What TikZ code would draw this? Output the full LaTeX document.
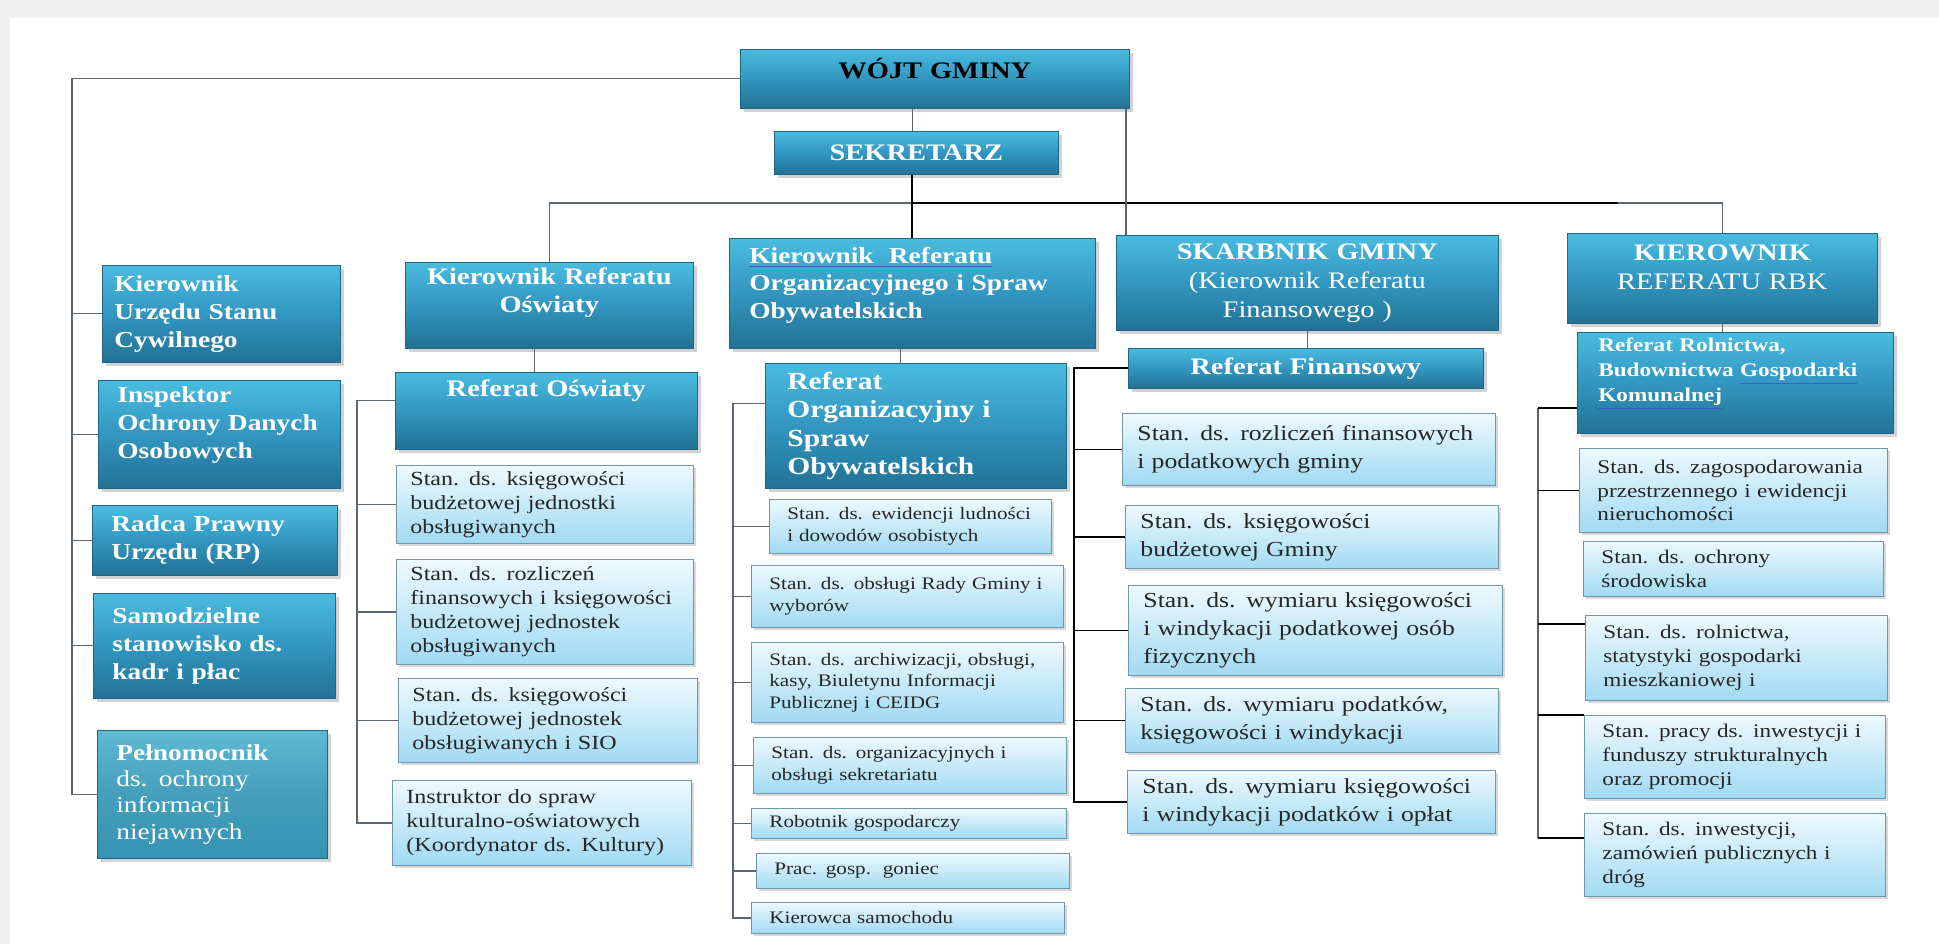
\documentclass[tikz,border=0pt]{standalone}
\usepackage{fontspec}
\setmainfont{Liberation Serif}[FakeStretch=1.2]
\usetikzlibrary{positioning,shadows,calc}

\definecolor{boxtop}{RGB}{74,188,224}
\definecolor{boxmid}{RGB}{50,150,192}
\definecolor{boxbot}{RGB}{34,114,148}
\definecolor{boxedge}{RGB}{30,104,134}
\definecolor{litetop}{RGB}{238,249,254}
\definecolor{litebot}{RGB}{160,218,243}
\definecolor{liteedge}{RGB}{112,150,170}
\definecolor{linegray}{RGB}{92,102,112}
\definecolor{pagegray}{RGB}{240,240,240}
\definecolor{peltop}{RGB}{96,186,212}
\definecolor{pelbot}{RGB}{56,146,178}
\definecolor{spellblue}{RGB}{60,90,200}

\tikzset{
  darknode/.style args={#1,#2}{
  rectangle, anchor=north west,
  top color=boxtop, bottom color=boxbot, middle color=boxmid,
  draw=boxedge, line width=0.4pt,
  drop shadow={shadow xshift=2pt,shadow yshift=-2pt,opacity=0.35},
  text=white,
  minimum width=#1 cm,
  minimum height=#2 cm,
  inner xsep=0.3cm, inner ysep=2pt,
  text width=#1 cm-2*\pgfkeysvalueof{/pgf/inner xsep},
  },
  litenode/.style args={#1,#2}{
  rectangle, anchor=north west,
  top color=litetop, bottom color=litebot,
  draw=liteedge, line width=0.5pt,
  drop shadow={shadow xshift=1.5pt,shadow yshift=-1.5pt,opacity=0.3},
  text=black!85, align=left,
  minimum width=#1 cm,
  minimum height=#2 cm,
  inner xsep=0.34cm, inner ysep=1pt,
  text width=#1 cm-2*\pgfkeysvalueof{/pgf/inner xsep},
  },
  lift/.style={execute at end node={\par\kern#1}},
  bigtext/.style={font=\bfseries\fontsize{13.5}{16}\selectfont},
  lefttext/.style={font=\bfseries\fontsize{13}{16}\selectfont,align=left,inner xsep=0.38cm},
  col2text/.style={font=\fontsize{11.4}{13.6}\selectfont,inner xsep=0.28cm},
  col3text/.style={font=\fontsize{10}{12.3}\selectfont,inner xsep=0.36cm},
  col4text/.style={font=\fontsize{12.2}{16}\selectfont,inner xsep=0.3cm},
  col5text/.style={font=\fontsize{11}{13.6}\selectfont,inner xsep=0.36cm},
  conn/.style={draw=linegray,line width=0.7pt},
  darkconn/.style={draw=black,line width=1pt},
}
\newcommand{\spell}[1]{{\color{spellblue}\underline{\color{white}#1}}}

\begin{document}
\begin{tikzpicture}[x=0.02cm,y=-0.02cm]
  \useasboundingbox (0,0) rectangle (1939,944);
  \fill[pagegray] (0,0) rectangle (1939,944);
  \fill[white] (10,18) rectangle (1939,944);

  % wojt i sekretarz
  \node[darknode={7.78,1.18},bigtext,text=black,align=center,lift=0.4cm] (wojt) at (740,49) {WÓJT GMINY};
  \node[darknode={5.68,0.86},bigtext,align=center] (sekr) at (774,131) {SEKRETARZ};

  % stanowiska samodzielne
  \node[darknode={4.76,1.94},lefttext,inner xsep=0.24cm] (usc) at (102,265) {Kierownik\\Urzędu Stanu\\Cywilnego};
  \node[darknode={4.84,2.16},lefttext,lift=0.36cm] (iodo) at (98,380) {Inspektor\\Ochrony Danych\\Osobowych};
  \node[darknode={4.9,1.4},lefttext] (radca) at (92,505) {Radca Prawny\\Urzędu (RP)};
  \node[darknode={4.84,2.1},lefttext] (samo) at (93,593) {Samodzielne\\stanowisko ds.\\kadr i płac};
  \node[darknode={4.6,2.56},lefttext,top color=peltop,bottom color=pelbot,middle color=pelbot!70!peltop,font=\fontsize{13}{15}\selectfont] (pel) at (97,730) {\textbf{Pełnomocnik}\\ds. ochrony\\informacji\\niejawnych};

  % oswiata
  \node[darknode={5.76,1.72},bigtext,align=center,inner xsep=0.2cm,lift=0.52cm] (kosw) at (405,262) {Kierownik Referatu\\Oświaty};
  \node[darknode={6.04,1.54},bigtext,align=center,lift=0.8cm] (rosw) at (395,372) {Referat Oświaty};
  \node[litenode={5.94,1.56},col2text] (b21) at (396,465) {Stan. ds. księgowości\\budżetowej jednostki\\obsługiwanych};
  \node[litenode={5.94,2.10},col2text] (b22) at (396,559) {Stan. ds. rozliczeń\\finansowych i księgowości\\budżetowej jednostek\\obsługiwanych};
  \node[litenode={5.98,1.68},col2text] (b23) at (398,678) {Stan. ds. księgowości\\budżetowej jednostek\\obsługiwanych i SIO};
  \node[litenode={5.98,1.70},col2text] (b24) at (392,780) {Instruktor do spraw\\kulturalno-oświatowych\\(Koordynator ds. Kultury)};

  % organizacyjny
  \node[darknode={7.32,2.2},font=\bfseries\fontsize{13}{15.6}\selectfont,align=left,inner xsep=0.4cm,lift=0.32cm] (korg) at (729,238) {\spell{Kierownik\ \ Referatu}\\Organizacyjnego i Spraw\\Obywatelskich};
  \node[darknode={6.02,2.5},font=\bfseries\fontsize{14}{16.2}\selectfont,align=left,inner xsep=0.44cm] (rorg) at (765,363) {Referat\\Organizacyjny i\\Spraw\\Obywatelskich};
  \node[litenode={5.64,1.08},col3text] (b31) at (769,499) {Stan. ds. ewidencji ludności\\i dowodów osobistych};
  \node[litenode={6.24,1.24},col3text] (b32) at (751,565) {Stan. ds. obsługi Rady Gminy i\\wyborów};
  \node[litenode={6.24,1.60},col3text] (b33) at (751,642) {Stan. ds. archiwizacji, obsługi,\\kasy, Biuletynu Informacji\\Publicznej i CEIDG};
  \node[litenode={6.26,1.12},col3text] (b34) at (753,737) {Stan. ds. organizacyjnych i\\obsługi sekretariatu};
  \node[litenode={6.30,0.60},col3text] (b35) at (751,808) {Robotnik gospodarczy};
  \node[litenode={6.26,0.70},col3text] (b36) at (756,853) {Prac. gosp.\ \ goniec};
  \node[litenode={6.26,0.62},col3text] (b37) at (751,902) {Kierowca samochodu};

  % finanse
  \node[darknode={7.64,1.9},font=\fontsize{13.5}{16.5}\selectfont,align=center] (skarb) at (1116,235) {\textbf{SKARBNIK GMINY}\\(Kierownik Referatu\\Finansowego )};
  \node[darknode={7.1,0.8},bigtext,align=center] (rfin) at (1128,348) {Referat Finansowy};
  \node[litenode={7.46,1.44},col4text] (b41) at (1122,413) {Stan. ds. rozliczeń finansowych\\i podatkowych gminy};
  \node[litenode={7.46,1.26},col4text] (b42) at (1125,505) {Stan. ds. księgowości\\budżetowej Gminy};
  \node[litenode={7.48,1.80},col4text] (b43) at (1128,585) {Stan. ds. wymiaru księgowości\\i windykacji podatkowej osób\\fizycznych};
  \node[litenode={7.46,1.28},col4text] (b44) at (1125,688) {Stan. ds. wymiaru podatków,\\księgowości i windykacji};
  \node[litenode={7.36,1.26},col4text] (b45) at (1127,770) {Stan. ds. wymiaru księgowości\\i windykacji podatków i opłat};

  % rbk
  \node[darknode={6.2,1.8},font=\fontsize{13.5}{16.5}\selectfont,align=center,lift=0.44cm] (krbk) at (1567,233) {\textbf{KIEROWNIK}\\REFERATU RBK};
  \node[darknode={6.32,2.02},font=\bfseries\fontsize{11}{14.2}\selectfont,align=left,inner xsep=0.42cm,lift=0.38cm] (rrbk) at (1577,332) {Referat Rolnictwa,\\Budownictwa \spell{Gospodarki}\\\spell{Komunalnej}};
  \node[litenode={6.16,1.68},col5text] (b51) at (1579,448) {Stan. ds. zagospodarowania\\przestrzennego i ewidencji\\nieruchomości};
  \node[litenode={6.00,1.10},col5text] (b52) at (1583,541) {Stan. ds. ochrony\\środowiska};
  \node[litenode={6.04,1.70},col5text] (b53) at (1585,615) {Stan. ds. rolnictwa,\\statystyki gospodarki\\mieszkaniowej i};
  \node[litenode={6.02,1.66},col5text] (b54) at (1584,715) {Stan. pracy ds. inwestycji i\\funduszy strukturalnych\\oraz promocji};
  \node[litenode={6.02,1.66},col5text] (b55) at (1584,813) {Stan. ds. inwestycji,\\zamówień publicznych i\\dróg};

  \coordinate (bus) at (912,203);
  \coordinate (busend) at (1618,203);
  \coordinate (leftbus) at (72,0);
  \coordinate (c2) at (357,0);
  \coordinate (c3) at (733,0);
  \coordinate (c4) at (1074,0);
  \coordinate (c5) at (1538,0);

  % polaczenia gora
  \draw[conn] ([xshift=-0.08cm]sekr.north) -- ([xshift=-0.08cm]sekr.north |- wojt.south);
  \draw[conn] (kosw.north) |- (bus) -| (krbk.north);
  \draw[darkconn,line width=1.4pt] (bus) -- (busend);
  \draw[darkconn] ([xshift=-0.08cm]sekr.south) -- ([xshift=-0.08cm]sekr.south |- korg.north);
  \draw[conn] ([xshift=0.2cm]skarb.north west) -- ([xshift=0.2cm]skarb.north west |- wojt.south);
  \draw[conn] (wojt.west) -| (leftbus |- pel.west) -- (pel.west);
  \foreach \n in {usc,iodo,radca,samo}
    \draw[conn] (leftbus |- \n.west) -- (\n.west);

  % oswiata
  \draw[conn] ([xshift=-0.3cm]kosw.south) -- ([xshift=-0.3cm]kosw.south |- rosw.north);
  \draw[conn] ([yshift=0.2cm]rosw.west) -| (c2 |- b24.west) -- (b24.west);
  \foreach \n in {b21,b22,b23}
    \draw[conn] (c2 |- \n.west) -- (\n.west);

  % organizacyjny
  \draw[conn] ([xshift=-0.24cm]korg.south) -- ([xshift=-0.24cm]korg.south |- rorg.north);
  \draw[conn] ([yshift=0.45cm]rorg.west) -| (c3 |- b37.west) -- (b37.west);
  \foreach \n in {b31,b32,b33,b34,b35,b36}
    \draw[conn] (c3 |- \n.west) -- (\n.west);

  % finanse
  \draw[conn] (skarb.south) -- (skarb.south |- rfin.north);
  \draw[darkconn] (rfin.west) -| (c4 |- b45.west) -- (b45.west);
  \foreach \n in {b41,b42,b43,b44}
    \draw[darkconn] (c4 |- \n.west) -- (\n.west);

  % rbk
  \draw[conn] (krbk.south) -- (krbk.south |- rrbk.north);
  \draw[conn] ($(rrbk.west -| c5)+(0,25)$) -- ($(b55.west -| c5)+(0,-17)$);
  \draw[darkconn] ($(rrbk.west -| c5)+(0,25)$) -- ($(rrbk.west)+(0,25)$);
  \draw[darkconn] (c5 |- b51.west) -- (b51.west);
  \draw[darkconn] ($(b53.west -| c5)+(0,-34)$) -- ($(b53.west)+(0,-34)$);
  \draw[darkconn] (c5 |- b54.north west) -- (b54.north west);
  \draw[darkconn] ($(b55.west -| c5)+(0,-17)$) -- ($(b55.west)+(0,-17)$);
\end{tikzpicture}
\end{document}
